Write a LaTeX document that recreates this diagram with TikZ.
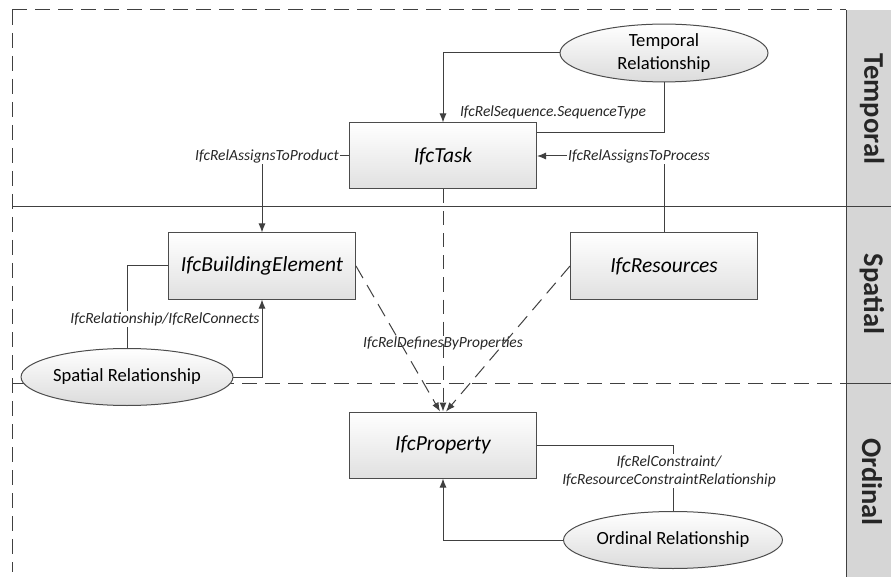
\documentclass[tikz,border=0pt]{standalone}
\usepackage{fontspec}
\setmainfont{Carlito}
\usepackage{tikz}
\usetikzlibrary{shapes.geometric, positioning}
\usetikzlibrary{arrows, arrows.meta}

\begin{document}
\begin{tikzpicture}[->,>={Latex[length=9pt,width=7pt]},x=1pt,y=-1pt,line width=1pt]
\tikzstyle{entity}=[draw=black!70,top color=white,bottom color=black!12,minimum width=187pt,minimum height=66pt,font=\fontsize{21.5}{24}\selectfont\itshape]
\tikzstyle{relation}=[ellipse,draw=black!70,top color=white,bottom color=black!14,minimum width=208pt,minimum height=57pt,inner sep=1pt,align=center,font=\fontsize{18.6}{23}\selectfont]
\tikzstyle{rel label}=[inner sep=1pt,font=\fontsize{15.5}{18}\selectfont\itshape,text=black!85]
\tikzstyle{band label}=[rotate=-90,font=\fontsize{28.5}{30}\selectfont\bfseries,text=black!85]
\tikzstyle{frame}=[-,draw=black!75,dash pattern=on 15pt off 8pt]

  \useasboundingbox (0,0) rectangle (891,577);

  % swimlane frame and side band
  \fill[black!16] (846,10) rectangle (891,577);
  \draw[frame] (12,10) -- (846,10);
  \draw[frame] (12,10) -- (12,572);
  \draw[frame] (12,383) -- (846,383);
  \draw[-,draw=black!75] (12,207) -- (891,207);
  \draw[-,draw=black!75] (846,383) -- (891,383);
  \draw[-,draw=black!75] (846,10) -- (846,577);

  \node[band label] (lT) at (872,109) {Temporal};
  \node[band label] (lS) at (872,294) {Spatial};
  \node[band label] (lO) at (872,482) {Ordinal};

  % entities
  \node[entity]   (task)                                 at (443,156) {IfcTask};
  \node[entity]   (prop) [below of=task, node distance=289pt]         {IfcProperty};
  \node[entity]   (be)                                   at (262,266) {IfcBuildingElement};
  \node[entity]   (res)  [right of=be, node distance=402pt]           {IfcResources};

  % relationships
  \node[relation] (tr)                                   at (664,53)  {Temporal\\Relationship};
  \node[relation] (sr)                                   at (127,377) {Spatial Relationship};
  \node[relation, minimum width=215pt] (or)              at (673,540) {Ordinal Relationship};

  % relation labels
  \node[rel label] (seq)  at (553,112) {IfcRelSequence.SequenceType};
  \node[rel label] (proc) at (639,156) {IfcRelAssignsToProcess};
  \node[rel label] (prod) at (267,156) {IfcRelAssignsToProduct};
  \node[rel label] (defs) at (443,343) {IfcRelDefinesByProperties};
  \node[rel label, align=center] (cstr) at (669,471) {IfcRelConstraint/\\IfcResourceConstraintRelationship};

  \tikzstyle{every path}=[draw=black!75]

  % temporal
  \draw[->] (tr.west) -| (task.north);
  \draw[-]  (tr.south) |- ([yshift=-10pt]task.north east);
  \draw[->] (proc.west) -- (task.east);
  \draw[-]  (res.north) -- (res.north |- proc.south);
  \draw[-]  (prod.east) -- (task.west);
  \draw[->] (be.north |- prod.south) -- (be.north);

  % spatial
  \draw[-]  (sr.north) |- (be.west);
  \node[rel label, fill=white] (conn) at (165,319) {IfcRelationship/IfcRelConnects};
  \draw[->] (sr.east) -| (be.south);

  % ordinal
  \draw[-]  (prop.east) -| (cstr.north -| or.north);
  \draw[-]  (cstr.south -| or.north) -- (or.north);
  \draw[->] (or.west) -| (prop.south);

  % properties
  \draw[->, dash pattern=on 14pt off 8pt] (task.south) -- (prop.north);
  \draw[->, dash pattern=on 14pt off 8pt] (be.east) -- ([xshift=-3pt]prop.north);
  \draw[->, dash pattern=on 14pt off 8pt] (res.west) -- ([xshift=3pt]prop.north);

\end{tikzpicture}
\end{document}
